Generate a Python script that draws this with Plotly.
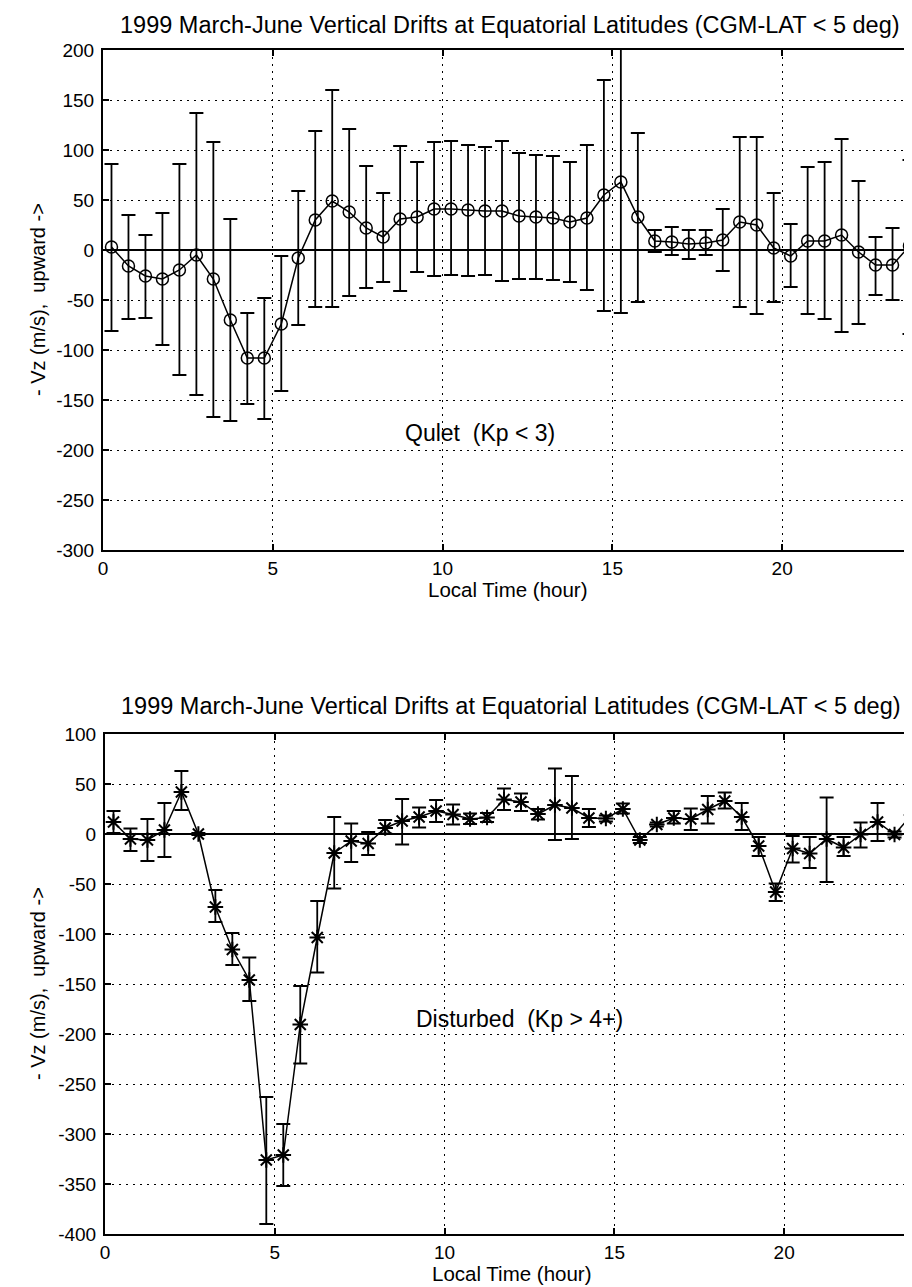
import plotly.graph_objects as go

# ---------------- data ----------------
hours = [0.25, 0.75, 1.25, 1.75, 2.25, 2.75, 3.25, 3.75, 4.25, 4.75, 5.25, 5.75,
         6.25, 6.75, 7.25, 7.75, 8.25, 8.75, 9.25, 9.75, 10.25, 10.75, 11.25, 11.75,
         12.25, 12.75, 13.25, 13.75, 14.25, 14.75, 15.25, 15.75, 16.25, 16.75, 17.25, 17.75,
         18.25, 18.75, 19.25, 19.75, 20.25, 20.75, 21.25, 21.75, 22.25, 22.75, 23.25, 23.75]

quiet_vz = [3, -16, -26, -29, -20, -5, -29, -70, -108, -108, -74, -8,
            30, 49, 38, 22, 13, 31, 33, 41, 41, 40, 39, 39,
            34, 33, 32, 28, 32, 55, 68, 33, 9, 8, 6, 7,
            10, 28, 25, 2, -6, 9, 9, 15, -2, -15, -15, 4]
quiet_upper = [86, 35, 15, 37, 86, 137, 108, 31, -63, -48, -6, 59,
               119, 160, 121, 84, 57, 104, 88, 108, 109, 105, 103, 109,
               97, 95, 94, 88, 105, 170, 240, 117, 20, 23, 20, 20,
               41, 113, 113, 57, 26, 83, 88, 111, 69, 13, 22, 90]
quiet_lower = [-81, -69, -68, -95, -125, -145, -167, -171, -154, -169, -141, -75,
               -57, -57, -46, -38, -32, -41, -22, -26, -25, -26, -25, -31,
               -29, -29, -30, -32, -40, -61, -63, -52, -2, -5, -9, -5,
               -21, -57, -64, -52, -37, -64, -69, -82, -74, -45, -50, -84]

dist_vz = [12, -5, -6, 4, 42, 0, -73, -115.5, -146, -326, -321, -190.5,
           -103.5, -19, -7, -9.5, 6, 13, 17, 23, 19.5, 15, 16.5, 34.5,
           32, 20, 29, 26, 16, 15.5, 25, -6, 9.5, 16, 15, 24.5,
           33, 17, -12, -58, -14.5, -19.5, -5, -13.5, -0.5, 12, -0.5, 19]
dist_upper = [23, 5.5, 15, 31, 63, 1, -56, -99, -123.5, -263, -290, -152,
              -67, 17, 10.5, 2, 14, 35, 26.5, 34, 29.5, 20.5, 21, 45.5,
              40.5, 25, 65.5, 58, 25, 18.5, 30.5, -3, 11.5, 23, 25.5, 38,
              41.5, 31, -3, -49.5, -2, -3, 36.5, -3, 11.5, 31, 2.5, 25.5]
dist_lower = [1, -17, -27, -23, 24, -1, -88, -131, -167, -390, -352, -229.5,
              -138.5, -54.5, -28, -21, 0.5, -10.5, 6.5, 12, 9.5, 10, 12, 24,
              23, 14.5, -6, -5, 7, 12.5, 20.5, -9, 7.5, 10.5, 4, 10.5,
              25.5, 4, -22, -67, -28.5, -34, -48, -22, -13.5, -7, -3.5, 10.5]

title_text = "1999 March-June Vertical Drifts at Equatorial Latitudes (CGM-LAT < 5 deg)"
x_title = "Local Time (hour)"
y_title = "- Vz (m/s),  upward ->"
quiet_label = "Qulet  (Kp < 3)"
dist_label = "Disturbed  (Kp > 4+)"
x_ticks = [0, 5, 10, 15, 20]
x_ticktext = ["0", "5", "10", "15", "20"]
top_y_ticks = [-300, -250, -200, -150, -100, -50, 0, 50, 100, 150, 200]
top_y_ticktext = ["-300", "-250", "-200", "-150", "-100", "-50", "0", "50", "100", "150", "200"]
bot_y_ticks = [-400, -350, -300, -250, -200, -150, -100, -50, 0, 50, 100]
bot_y_ticktext = ["-400", "-350", "-300", "-250", "-200", "-150", "-100", "-50", "0", "50", "100"]

# ---------------- layout helpers ----------------
W, H = 912, 1287
FONT = "Liberation Sans, Arial, Helvetica, sans-serif"


def px_x(p):
    return p / W


def px_y(p):
    return 1 - p / H


fig = go.Figure()

fig.add_trace(go.Scatter(
    x=hours, y=quiet_vz, mode="lines+markers",
    line=dict(color="black", width=1.5),
    marker=dict(symbol="circle-open", size=12, color="black", line=dict(width=1.5)),
    error_y=dict(type="data", symmetric=False,
                 array=[u - v for u, v in zip(quiet_upper, quiet_vz)],
                 arrayminus=[v - l for v, l in zip(quiet_vz, quiet_lower)],
                 color="black", thickness=1.8, width=7),
    xaxis="x", yaxis="y", showlegend=False,
))

fig.add_trace(go.Scatter(
    x=hours, y=dist_vz, mode="lines+markers",
    line=dict(color="black", width=1.5),
    marker=dict(symbol="asterisk-open", size=13, color="black", line=dict(width=2)),
    error_y=dict(type="data", symmetric=False,
                 array=[u - v for u, v in zip(dist_upper, dist_vz)],
                 arrayminus=[v - l for v, l in zip(dist_vz, dist_lower)],
                 color="black", thickness=1.8, width=7),
    xaxis="x2", yaxis="y2", showlegend=False,
))

common_x = dict(
    range=[0, 24], tickvals=x_ticks, ticktext=x_ticktext, ticks="inside", ticklen=6,
    tickwidth=1.5, tickcolor="black", showline=True, linecolor="black", linewidth=2,
    mirror="ticks", showgrid=True, gridcolor="black", gridwidth=1, griddash="2px,5px",
    zeroline=False, tickfont=dict(family=FONT, size=19, color="black"),
    ticklabelstandoff=0, automargin=False,
)
common_y = dict(
    ticks="inside", ticklen=6, tickwidth=1.5,
    tickcolor="black", showline=True, linecolor="black", linewidth=2, mirror="ticks",
    showgrid=True, gridcolor="black", gridwidth=1, griddash="2px,5px",
    zeroline=True, zerolinecolor="black", zerolinewidth=2,
    tickfont=dict(family=FONT, size=19, color="black"),
    ticklabelstandoff=3, automargin=False,
)

top_y0, top_y1 = 42, 542
bot_y0, bot_y1 = 726, 1226

fig.update_layout(
    width=W, height=H,
    margin=dict(l=0, r=0, t=0, b=0),
    paper_bgcolor="white", plot_bgcolor="white",
    font=dict(family=FONT, color="black"),
    xaxis=dict(domain=[px_x(95), px_x(910)], anchor="y", **common_x),
    yaxis=dict(domain=[px_y(top_y1), px_y(top_y0)], anchor="x",
               range=[-300, 200], tickvals=top_y_ticks, ticktext=top_y_ticktext, **common_y),
    xaxis2=dict(domain=[px_x(97), 1.0], anchor="y2", **common_x),
    yaxis2=dict(domain=[px_y(bot_y1), px_y(bot_y0)], anchor="x2",
                range=[-400, 100], tickvals=bot_y_ticks, ticktext=bot_y_ticktext, **common_y),
)

ann = []
# titles
ann.append(dict(text=title_text, x=px_x(502), y=px_y(17), xref="paper", yref="paper",
                showarrow=False, font=dict(family=FONT, size=23.5, color="black"),
                xanchor="center", yanchor="middle"))
ann.append(dict(text=title_text, x=px_x(503), y=px_y(698), xref="paper", yref="paper",
                showarrow=False, font=dict(family=FONT, size=23.5, color="black"),
                xanchor="center", yanchor="middle"))
# x titles
for yc, xc in [(581, 500), (1265, 504)]:
    ann.append(dict(text=x_title, x=px_x(xc), y=px_y(yc), xref="paper", yref="paper",
                    showarrow=False, font=dict(family=FONT, size=20.5, color="black"),
                    xanchor="center", yanchor="middle"))
# y titles
for yc in [(top_y0 + top_y1) / 2, (bot_y0 + bot_y1) / 2]:
    ann.append(dict(text=y_title, x=px_x(30), y=px_y(yc), xref="paper", yref="paper",
                    showarrow=False, textangle=-90,
                    font=dict(family=FONT, size=20, color="black"),
                    xanchor="center", yanchor="middle"))
# in-plot labels
ann.append(dict(text=quiet_label, x=11.1, y=-183, xref="x", yref="y", showarrow=False,
                font=dict(family=FONT, size=23, color="black")))
ann.append(dict(text=dist_label, x=12.2, y=-185, xref="x2", yref="y2", showarrow=False,
                font=dict(family=FONT, size=23, color="black")))

fig.update_layout(annotations=ann)

fig.write_html("out.html")
